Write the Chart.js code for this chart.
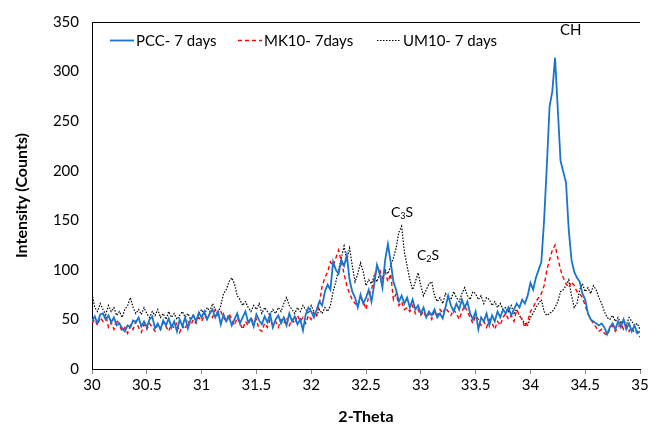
<!DOCTYPE html>
<html>
<head>
<meta charset="utf-8">
<script src="https://cdn.jsdelivr.net/npm/chart.js@4.4.1/dist/chart.umd.min.js"></script>
<style>
  html, body { margin: 0; padding: 0; background: #fff; }
  #wrap { width: 672px; height: 430px; position: relative; }
</style>
</head>
<body>
<div id="wrap"><canvas id="xrd"></canvas></div>
<script>
// 2-theta sampling grid: 30 to 35, step 0.025
const thetaStart = 30;
const thetaStep = 0.025;
const thetaCount = 201;
const xTicks = [30, 30.5, 31, 31.5, 32, 32.5, 33, 33.5, 34, 34.5, 35];
const yTicks = [0, 50, 100, 150, 200, 250, 300, 350];

const seriesNames = ["PCC- 7 days", "MK10- 7days", "UM10- 7 days"];

const pcc = [
  48, 53, 46, 55, 56, 50, 54, 47, 52, 44,
  46, 41, 38, 44, 42, 49, 47, 52, 43, 48,
  42, 50, 53, 41, 46, 40, 49, 44, 51, 42,
  48, 38, 50, 43, 52, 41, 50, 54, 48, 57,
  52, 58, 50, 56, 60, 52, 58, 45, 55, 48,
  53, 44, 50, 56, 46, 52, 58, 47, 51, 43,
  55, 49, 45, 53, 47, 55, 42, 50, 54, 46,
  52, 44, 56, 48, 53, 45, 50, 39, 55, 62,
  58, 52, 60, 68, 64, 78, 85, 80, 108, 100,
  96, 110, 104, 115, 90, 78, 72, 62, 75, 66,
  72, 80, 68, 85, 105, 96, 82, 110, 126, 108,
  88, 80, 68, 74, 66, 72, 62, 70, 60, 64,
  56, 62, 52, 58, 54, 60, 52, 56, 51, 62,
  74, 64, 58, 66, 60, 70, 62, 68, 56, 50,
  58, 40, 52, 48, 56, 44, 54, 48, 58, 52,
  60, 56, 62, 54, 60, 66, 62, 70, 66, 74,
  87, 80, 92, 100, 108, 150, 205, 265, 280, 314,
  262, 210, 199, 188, 140, 110, 98, 92, 88, 76,
  70, 56, 50, 48, 46, 44, 46, 42, 35, 42,
  46, 40, 48, 42, 50, 40, 46, 38, 44, 36,
  38
];

const mk10 = [
  46, 50, 44, 52, 48, 55, 42, 47, 40, 50,
  44, 38, 42, 36, 44, 40, 48, 42, 37, 45,
  40, 46, 42, 38, 45, 40, 47, 43, 38, 45,
  41, 47, 37, 44, 40, 48, 44, 50, 46, 52,
  48, 54, 50, 56, 52, 60, 54, 58, 52, 48,
  56, 50, 44, 52, 46, 40, 48, 44, 52, 46,
  50, 40, 38, 46, 42, 50, 44, 48, 42, 50,
  46, 52, 44, 50, 46, 54, 48, 52, 46, 54,
  50, 58, 54, 66, 84, 92, 98, 108, 104, 112,
  120, 108, 96, 84, 76, 70, 66, 64, 72, 68,
  60, 74, 80, 92, 104, 100, 92, 98, 88, 96,
  70, 76, 64, 68, 60, 62, 58, 64, 56, 60,
  54, 58, 52, 56, 50, 58, 54, 60, 56, 62,
  58, 54, 60, 56, 50, 58, 64, 58, 52, 46,
  54, 50, 44, 48, 42, 50, 46, 40, 48, 44,
  52, 56, 50, 54, 48, 60, 54, 50, 42, 48,
  58, 62, 68, 72, 76, 84, 100, 110, 120, 125,
  112, 100, 92, 86, 82, 88, 84, 78, 76, 72,
  64, 56, 50, 46, 42, 38, 40, 36, 34, 40,
  44, 38, 42, 46, 40, 44, 38, 42, 36, 38,
  32
];

const um10 = [
  76, 62, 58, 66, 60, 55, 64, 58, 62, 54,
  58, 52, 60, 64, 72, 62, 56, 60, 55, 62,
  56, 52, 58, 54, 60, 52, 56, 50, 58, 52,
  56, 50, 54, 58, 52, 56, 50, 55, 48, 56,
  60, 54, 62, 58, 66, 60, 56, 64, 76, 80,
  88, 92, 86, 74, 70, 64, 68, 62, 58, 64,
  60, 66, 56, 62, 58, 54, 60, 56, 62, 58,
  66, 72, 64, 60, 56, 62, 58, 64, 60, 56,
  64, 58, 54, 60, 56, 62, 58, 64, 78, 88,
  100, 112, 124, 110, 122, 104, 88, 96, 107, 98,
  84, 90, 86, 94, 88, 96, 90, 100, 96, 104,
  112, 122, 138, 144, 118, 104, 90, 80, 88, 97,
  84, 74, 80, 86, 88, 74, 68, 72, 66, 76,
  72, 70, 78, 72, 68, 76, 82, 74, 70, 78,
  76, 70, 74, 66, 72, 70, 64, 68, 62, 66,
  60, 62, 58, 64, 56, 60, 54, 50, 46, 44,
  52, 56, 62, 66, 70, 58, 54, 56, 58, 62,
  68, 78, 80, 84, 90, 74, 62, 66, 80, 86,
  78, 82, 76, 84, 80, 72, 66, 58, 52, 50,
  54, 48, 52, 46, 50, 44, 52, 48, 44, 46,
  40
];

const thetas = Array.from({ length: thetaCount }, (_, i) => +(thetaStart + i * thetaStep).toFixed(3));
const toPoints = (ys) => ys.map((y, i) => ({ x: thetas[i], y: y }));

const FONT = "Lato, 'Open Sans', sans-serif";

// legend + peak labels drawn inside the plot
const extras = {
  id: "extras",
  afterDraw(chart) {
    const c = chart.ctx;
    const area = chart.chartArea;
    c.save();
    // top border
    c.strokeStyle = "#000";
    c.lineWidth = 1;
    c.beginPath();
    c.moveTo(area.left, area.top + 0.5);
    c.lineTo(area.right, area.top + 0.5);
    c.stroke();

    // legend
    c.font = "15px " + FONT;
    c.textBaseline = "middle";
    c.fillStyle = "#000";
    const items = [
      { x: 110, color: "#1874cd", dash: [], w: 1.8 },
      { x: 238, color: "#ff0000", dash: [4, 3], w: 1.5 },
      { x: 377, color: "#000000", dash: [1.5, 1.5], w: 1.2 },
    ];
    items.forEach((it, i) => {
      c.strokeStyle = it.color;
      c.lineWidth = it.w;
      c.setLineDash(it.dash);
      c.beginPath();
      c.moveTo(it.x, 40.5);
      c.lineTo(it.x + 24, 40.5);
      c.stroke();
      c.setLineDash([]);
      c.fillText(seriesNames[i], it.x + 26, 41);
    });

    // peak labels
    const sub = (txt, x, y) => {
      c.font = "14px " + FONT;
      c.fillText(txt[0], x, y);
      let w = c.measureText(txt[0]).width;
      c.font = "9px " + FONT;
      c.fillText(txt[1], x + w, y + 4);
      let w2 = c.measureText(txt[1]).width;
      c.font = "14px " + FONT;
      c.fillText(txt[2], x + w + w2, y);
    };
    c.textBaseline = "middle";
    c.font = "15px " + FONT;
    c.fillText("CH", 560, 30);
    sub("C3S", 391, 212);
    sub("C2S", 417, 255);
    c.restore();
  }
};

new Chart(document.getElementById("xrd"), {
  type: "line",
  data: {
    datasets: [
      {
        label: seriesNames[0],
        data: toPoints(pcc),
        borderColor: "#1874cd",
        borderWidth: 1.8,
        pointRadius: 0,
        tension: 0,
      },
      {
        label: seriesNames[1],
        data: toPoints(mk10),
        borderColor: "#ff0000",
        borderWidth: 1.4,
        borderDash: [4, 3],
        pointRadius: 0,
        tension: 0,
      },
      {
        label: seriesNames[2],
        data: toPoints(um10),
        borderColor: "#000000",
        borderWidth: 1.2,
        borderDash: [1.5, 1.5],
        pointRadius: 0,
        tension: 0,
      },
    ],
  },
  options: {
    responsive: true,
    maintainAspectRatio: false,
    animation: false,
    layout: { padding: { left: 0, right: 32, top: 13, bottom: 0 } },
    plugins: {
      legend: { display: false },
      tooltip: { enabled: false },
    },
    scales: {
      x: {
        type: "linear",
        min: 30,
        max: 35,
        afterBuildTicks: (s) => { s.ticks = xTicks.map((v) => ({ value: v })); },
        afterFit: (s) => { s.height = 61; },
        grid: {
          drawOnChartArea: false,
          drawTicks: true,
          tickLength: 5,
          color: "#8c8c8c",
        },
        border: { color: "#000", width: 1 },
        ticks: {
          color: "#000",
          padding: 2,
          font: { family: FONT, size: 15 },
          callback: (v) => String(v),
        },
        title: {
          display: true,
          text: "2-Theta",
          color: "#000",
          font: { family: FONT, size: 16, weight: "bold" },
          padding: { top: 0 },
        },
      },
      y: {
        min: 0,
        max: 350,
        afterBuildTicks: (s) => { s.ticks = yTicks.map((v) => ({ value: v })); },
        afterFit: (s) => { s.width = 92; },
        grid: { display: false, drawTicks: false },
        border: { color: "#000", width: 1 },
        ticks: {
          color: "#000",
          padding: 13,
          font: { family: FONT, size: 15 },
        },
        title: {
          display: true,
          text: "Intensity (Counts)",
          color: "#000",
          font: { family: FONT, size: 16, weight: "bold" },
          padding: { top: 12, bottom: 0 },
        },
      },
    },
  },
  plugins: [extras],
});
</script>
</body>
</html>
